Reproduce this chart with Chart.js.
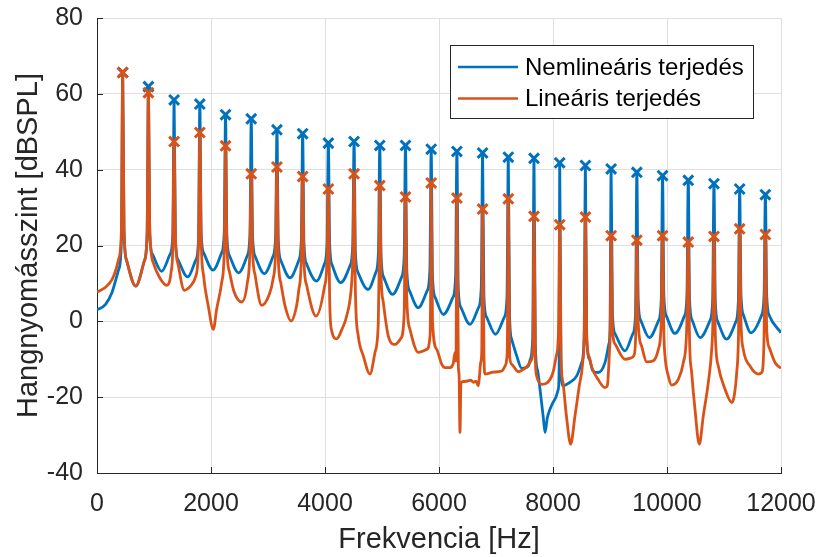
<!DOCTYPE html>
<html>
<head>
<meta charset="utf-8">
<script src="https://cdn.jsdelivr.net/npm/chart.js@4.4.0/dist/chart.umd.min.js"></script>
<style>
html, body { margin: 0; padding: 0; background: #fff; }
canvas { display: block; }
</style>
</head>
<body>
<canvas id="spectrumChart" width="819" height="557"></canvas>
<script>
// harmonic peaks (Hz) and the level at each peak (x markers)
const peakHz = [451, 902, 1353, 1804, 2255, 2706, 3157, 3608, 4059, 4510, 4961, 5412, 5863,
    6314, 6765, 7216, 7667, 8118, 8569, 9020, 9471, 9922, 10373, 10824, 11275, 11726];
const nemlinPeakDb = [65.6, 61.9, 58.4, 57.3, 54.5, 53.4, 50.5, 49.5, 47.0, 47.4, 46.4, 46.4, 45.4,
    44.8, 44.4, 43.3, 43.0, 41.8, 41.1, 40.2, 39.3, 38.4, 37.2, 36.3, 34.9, 33.4];
const linPeakDb = [65.6, 60.3, 47.4, 49.8, 46.3, 38.9, 40.7, 38.2, 34.9, 38.9, 35.8, 32.8, 36.5,
    32.5, 29.6, 32.3, 27.7, 25.5, 27.5, 22.6, 21.4, 22.6, 20.9, 22.4, 24.4, 22.9];

// curve between the peaks, [Hz, dB]
const nemlinCurve = [
    [0, 3.0], [150, 4.5], [263, 7.6], [340, 11.5], [381, 13.7], [428, 21],
    [474, 24], [521, 16], [680, 9.3], [832, 16], [879, 23],
    [925, 23], [972, 17.7], [1135, 13.2], [1283, 17.7], [1330, 23],
    [1376, 21.7], [1423, 16.2], [1591, 11.7], [1734, 16.2], [1781, 21.7],
    [1827, 23.5], [1874, 18], [2035, 13.5], [2185, 18], [2232, 23.5],
    [2278, 22.8], [2325, 17.3], [2485, 12.8], [2636, 17.3], [2683, 22.8],
    [2729, 22.6], [2776, 17.1], [2935, 12.6], [3087, 17.1], [3134, 22.6],
    [3180, 21.5], [3227, 16], [3386, 11.5], [3538, 16], [3585, 21.5],
    [3631, 20.6], [3678, 15.1], [3850, 10.6], [3989, 15.1], [4036, 20.6],
    [4082, 20.2], [4129, 14.7], [4275, 10.2], [4440, 14.7], [4487, 20.2],
    [4533, 18.4], [4580, 12.9], [4755, 8.4], [4891, 12.9], [4938, 18.4],
    [4984, 17.1], [5031, 11.6], [5185, 7.1], [5342, 11.6], [5389, 17.1],
    [5435, 13.6], [5482, 8.1], [5637, 3.6], [5793, 8.1], [5840, 13.6],
    [5886, 11.8], [5933, 6.3], [6076, 1.8], [6244, 6.3], [6291, 11.8],
    [6337, 9.2], [6384, 3.7], [6544, -0.8], [6695, 3.7], [6742, 9.2],
    [6788, 6.6], [6835, 1.1], [6990, -3.4], [7146, 1.1], [7193, 6.6],
    [7239, 1], [7274, -4.7], [7363, -9.1], [7451, -12.4], [7567, -11.8], [7602, -10], [7644, -4],
    [7690, -6], [7730, -13], [7772, -17.9], [7830, -25.4], [7860, -29.3], [7900, -25.5],
    [7947, -23.2], [8035, -20.5], [8093, -17.9], [8108, -12],
    [8141, -12], [8175, -17], [8298, -16.1], [8416, -14.4], [8503, -10.9], [8546, -4],
    [8592, -5], [8639, -10], [8700, -13.1], [8795, -13.5], [8912, -10.9], [8980, -6], [9000, -2],
    [9043, 2], [9090, -3.3], [9263, -7.8], [9401, -3.3], [9448, 2],
    [9494, 5.7], [9541, 0.2], [9690, -4.3], [9852, 0.2], [9899, 5.7],
    [9945, 6.8], [9992, 1.3], [10140, -3.2], [10303, 1.3], [10350, 6.8],
    [10396, 5.7], [10443, 0.2], [10580, -4.3], [10754, 0.2], [10801, 5.7],
    [10847, 5.3], [10894, -0.2], [11045, -4.7], [11205, -0.2], [11252, 5.3],
    [11298, 7], [11345, 1.5], [11470, -3.0], [11656, 1.5], [11703, 7],
    [11749, 7], [11796, 1.5], [12000, -3.0]
];
const linCurve = [
    [0, 7.7], [150, 9], [263, 11], [340, 14], [381, 16.5], [428, 24],
    [474, 24], [521, 16], [680, 9.3], [832, 16], [879, 23],
    [925, 25], [988, 15.4], [1100, 11.5], [1222, 9.5], [1300, 13], [1330, 20],
    [1376, 22], [1423, 15], [1532, 8.2], [1650, 9.5], [1734, 12], [1781, 20],
    [1827, 22], [1870, 12], [1953, 4], [2041, -2.1], [2099, 3.2], [2187, 10.2], [2235, 20],
    [2278, 20], [2325, 13], [2400, 8], [2538, 5.1], [2636, 10], [2683, 19],
    [2729, 19], [2776, 12], [2889, 4.2], [3020, 7], [3087, 11], [3134, 19],
    [3180, 17], [3227, 10], [3300, 4], [3404, 0.1], [3500, 4], [3538, 8], [3585, 17],
    [3631, 16], [3678, 9.5], [3842, 1.4], [3989, 9], [4036, 16],
    [4082, 6], [4117, -2.5], [4205, -4.6], [4300, -2], [4380, 1.4], [4468, 10.2], [4490, 18],
    [4533, 8], [4584, -3.9], [4672, -9.1], [4789, -13.9], [4877, -8.2], [4935, -0.3], [4948, 12],
    [4984, 12], [5023, 5], [5111, -3.9], [5228, -6.1], [5330, -4.5], [5389, 2],
    [5435, 6], [5491, -2.1], [5637, -8.2], [5784, -7.4], [5842, -3.9], [5852, 5],
    [5886, 0], [5960, -7.4], [6047, -11.3], [6105, -12.2], [6193, -12.2], [6251, -11], [6281, -8.2], [6298, -10.5],
    [6340, -12], [6352, -14], [6368, -29.3], [6385, -16.1], [6485, -15.8], [6560, -15.5], [6602, -16.1],
    [6650, -15.8], [6690, -17], [6708, -14.8], [6731, -10.9], [6750, -8],
    [6788, -8], [6807, -13.9], [6953, -13.4], [7100, -13.1], [7158, -11.8], [7188, -10], [7200, -5],
    [7239, -9], [7274, -11.3], [7391, -13.3], [7509, -12.4], [7626, -10], [7650, -6],
    [7690, -10], [7713, -14.4], [7802, -16.6], [7890, -16.3], [8000, -13.5], [8058, -9.1], [8095, -3],
    [8141, -10], [8175, -16.1], [8235, -24.9], [8310, -32.4], [8386, -24.9], [8461, -17], [8521, -10.9], [8550, -2],
    [8592, -4], [8639, -9.5], [8678, -12], [8790, -15.3], [8912, -17.5], [8953, -17], [8990, -8], [9005, -2],
    [9043, -2], [9090, -6], [9263, -10], [9380, -9.6], [9420, -9], [9450, -4],
    [9494, 0], [9554, -6.5], [9643, -10.7], [9760, -10.4], [9848, -7.4], [9899, 0],
    [9945, -3], [9965, -9.1], [10023, -14.4], [10082, -16.8], [10198, -15.3], [10286, -10.9], [10345, -2.1],
    [10396, -5], [10433, -13.5], [10491, -23.2], [10567, -32.4], [10637, -24.9], [10725, -16.1], [10784, -7.4], [10805, 0],
    [10847, -3], [10900, -11.8], [11018, -17.9], [11135, -21.4], [11175, -20], [11223, -13.5], [11255, -3],
    [11298, 0], [11339, -7.4], [11456, -11.8], [11602, -13.9], [11661, -13.5], [11700, -6],
    [11749, -2], [11796, -7], [11900, -11], [12000, -12.4]
];

const xTicks = [0, 2000, 4000, 6000, 8000, 10000, 12000];
const yTicks = [-40, -20, 0, 20, 40, 60, 80];

const BLUE = '#0072BD';
const ORANGE = '#D95319';
const AXIS = '#262626';
const GRID = '#dfdfdf';
const FONT = '"Liberation Sans", Arial, sans-serif';

function peakPoints(levels) {
    return peakHz.map((hz, i) => ({ x: hz, y: levels[i] }));
}
function curvePoints(curve, levels) {
    let pts = curve.map(p => ({ x: p[0], y: p[1] })).concat(peakPoints(levels));
    return pts.sort((a, b) => a.x - b.x);
}

// MATLAB style ticks pointing into the plot
const insideTicks = {
    id: 'insideTicks',
    afterDraw(chart) {
        const { ctx, chartArea: a, scales: { x, y } } = chart;
        ctx.save();
        ctx.strokeStyle = AXIS; ctx.lineWidth = 1;
        ctx.beginPath();
        xTicks.forEach(v => { let px = Math.round(x.getPixelForValue(v)) + 0.5; ctx.moveTo(px, a.bottom); ctx.lineTo(px, a.bottom - 6); });
        yTicks.forEach(v => { let py = Math.round(y.getPixelForValue(v)) + 0.5; ctx.moveTo(a.left, py); ctx.lineTo(a.left + 6, py); });
        ctx.stroke();
        ctx.restore();
    }
};

// boxed legend in the upper right corner
const boxLegend = {
    id: 'boxLegend',
    afterDraw(chart) {
        const ctx = chart.ctx;
        const items = chart.data.datasets.filter(d => d.inLegend);
        ctx.save();
        ctx.fillStyle = '#fff';
        ctx.fillRect(450, 45, 303, 73);
        ctx.strokeStyle = AXIS; ctx.lineWidth = 1;
        ctx.strokeRect(450.5, 45.5, 303, 73);
        ctx.font = '24px ' + FONT;
        ctx.textBaseline = 'middle';
        items.forEach((d, i) => {
            let cy = 67 + i * 31.5;
            ctx.strokeStyle = d.borderColor; ctx.lineWidth = 2.5;
            ctx.beginPath(); ctx.moveTo(458, cy); ctx.lineTo(518, cy); ctx.stroke();
            ctx.fillStyle = '#000';
            ctx.fillText(d.label, 525, cy + 1);
        });
        ctx.restore();
    }
};

new Chart(document.getElementById('spectrumChart').getContext('2d'), {
    type: 'line',
    data: {
        datasets: [
            { label: 'Nemlineáris terjedés', inLegend: true, data: curvePoints(nemlinCurve, nemlinPeakDb), borderColor: BLUE, borderWidth: 2.8, pointRadius: 0, cubicInterpolationMode: 'monotone', order: 4 },
            { label: 'Lineáris terjedés', inLegend: true, data: curvePoints(linCurve, linPeakDb), borderColor: ORANGE, borderWidth: 2.8, pointRadius: 0, cubicInterpolationMode: 'monotone', order: 3 },
            { label: 'nemlin csúcs', data: peakPoints(nemlinPeakDb), showLine: false, pointStyle: 'crossRot', pointRadius: 7, pointHoverRadius: 7, pointBorderWidth: 3, pointBorderColor: BLUE, borderColor: BLUE, order: 2 },
            { label: 'lin csúcs', data: peakPoints(linPeakDb), showLine: false, pointStyle: 'crossRot', pointRadius: 7, pointHoverRadius: 7, pointBorderWidth: 3, pointBorderColor: ORANGE, borderColor: ORANGE, order: 1 }
        ]
    },
    options: {
        responsive: false, animation: false, devicePixelRatio: 1,
        layout: { padding: { top: 18, right: 38, left: 0, bottom: 0 } },
        plugins: { legend: { display: false }, tooltip: { enabled: false } },
        scales: {
            x: {
                type: 'linear', min: 0, max: 12000,
                afterBuildTicks: s => { s.ticks = xTicks.map(v => ({ value: v })); },
                afterFit: s => { s.height = 84; s.paddingLeft = 0; s.paddingRight = 0; },
                grid: { color: GRID, drawTicks: false },
                border: { color: AXIS, width: 1 },
                ticks: { font: { family: FONT, size: 25 }, color: AXIS, padding: 16, maxRotation: 0, callback: v => String(v) },
                title: { display: true, text: 'Frekvencia [Hz]', font: { family: FONT, size: 29 }, color: AXIS, padding: { top: 0, bottom: 0 } }
            },
            y: {
                min: -40, max: 80,
                afterBuildTicks: s => { s.ticks = yTicks.map(v => ({ value: v })); },
                afterFit: s => { s.width = 97; s.paddingTop = 0; s.paddingBottom = 0; },
                grid: { color: GRID, drawTicks: false },
                border: { color: AXIS, width: 1 },
                ticks: { font: { family: FONT, size: 25 }, color: AXIS, padding: 14, callback: v => String(v) },
                title: { display: true, text: 'Hangnyomásszint [dBSPL]', font: { family: FONT, size: 29 }, color: AXIS, padding: { top: 12, bottom: 0 } }
            }
        }
    },
    plugins: [insideTicks, boxLegend]
});
</script>
</body>
</html>
